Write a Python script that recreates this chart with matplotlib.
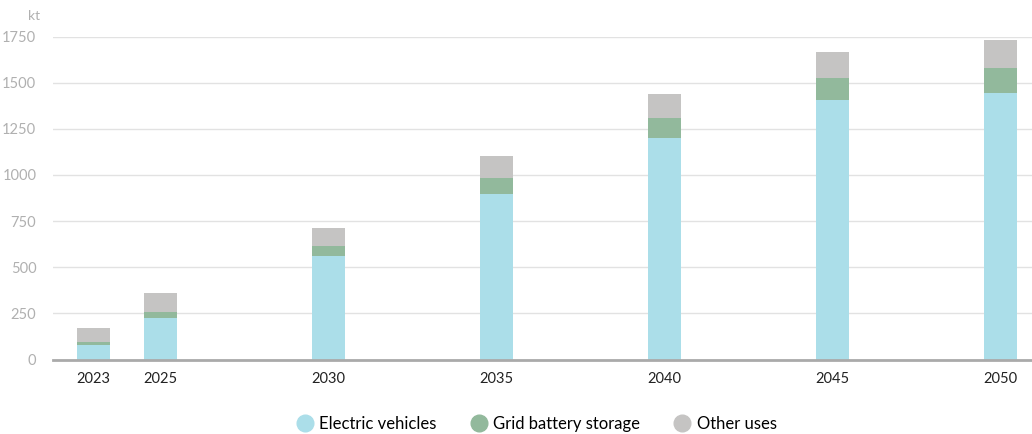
import matplotlib.pyplot as plt
from matplotlib.lines import Line2D

plt.rcParams['font.family'] = ['Lato', 'DejaVu Sans']

years = [2023, 2025, 2030, 2035, 2040, 2045, 2050]
electric_vehicles = [78, 226, 561, 897, 1200, 1406, 1444]
grid_storage = [18, 31, 54, 86, 108, 119, 135]
other_uses = [74, 103, 97, 120, 130, 141, 152]

labels = ["Electric vehicles", "Grid battery storage", "Other uses"]
colors = ["#abdee9", "#92b99c", "#c5c4c3"]

fig = plt.figure(figsize=(10.32, 4.34), dpi=100)
ax = fig.add_axes([53 / 1032, 1 - 359.5 / 434, 1 - 53 / 1032, (359.5 - 36.5) / 434])

# stacked bars, bottom to top
bottom = [0] * len(years)
for vals, col in zip([electric_vehicles, grid_storage, other_uses], colors):
    ax.bar(years, vals, bottom=bottom, width=0.98, color=col, zorder=2)
    bottom = [b + v for b, v in zip(bottom, vals)]

ax.set_xlim(2021.8, 2050.95)
ax.set_ylim(0, 1750)
ax.set_yticks([0, 250, 500, 750, 1000, 1250, 1500, 1750])
ax.set_xticks(years)

ax.grid(axis="y", color="#e2e2e2", linewidth=1, zorder=0)
for s in ["top", "right", "left"]:
    ax.spines[s].set_visible(False)
ax.spines["bottom"].set_color("#aaaaaa")
ax.spines["bottom"].set_linewidth(2)
ax.spines["bottom"].set_zorder(3)

ax.tick_params(axis="y", length=0, labelsize=10.5, labelcolor="#b0b0b0", pad=12)
ax.tick_params(axis="x", length=0, labelsize=10.5, labelcolor="#222222", pad=9)

fig.text(34 / 1032, 1 - 16 / 434, "kt", fontsize=10, color="#b0b0b0", ha="center", va="center")

handles = [Line2D([], [], marker="o", linestyle="", markersize=12, color=c) for c in colors]
fig.legend(handles, labels, loc="center", bbox_to_anchor=(536 / 1032, 1 - 424 / 434),
           ncol=3, frameon=False, fontsize=12, handletextpad=0.3, columnspacing=2.0,
           handlelength=1.1)

fig.savefig("out.png", dpi=100)
